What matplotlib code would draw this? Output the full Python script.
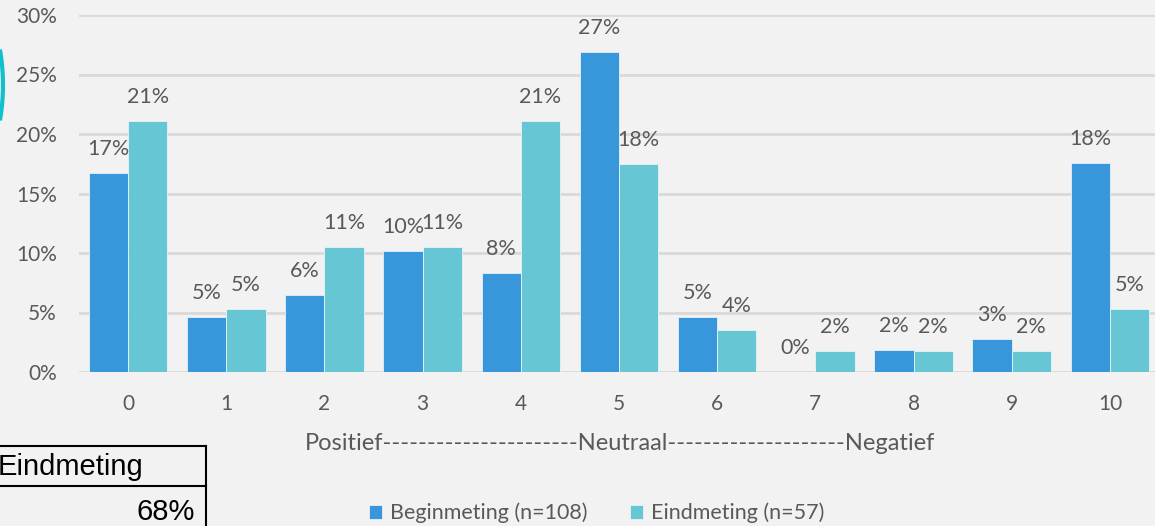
import matplotlib.pyplot as plt
from matplotlib.patches import Arc
import numpy as np

categories = ['0', '1', '2', '3', '4', '5', '6', '7', '8', '9', '10']
begin = [16.7, 4.6, 6.5, 10.2, 8.3, 26.9, 4.6, 0.0, 1.85, 2.8, 17.6]
eind = [21.1, 5.3, 10.5, 10.5, 21.1, 17.5, 3.5, 1.75, 1.75, 1.75, 5.3]
begin_labels = ['17%', '5%', '6%', '10%', '8%', '27%', '5%', '0%', '2%', '3%', '18%']
eind_labels = ['21%', '5%', '11%', '11%', '21%', '18%', '4%', '2%', '2%', '2%', '5%']
yticks = [0, 5, 10, 15, 20, 25, 30]
series_names = ['Beginmeting (n=108)', 'Eindmeting (n=57)']
x_title = 'Positief' + '-' * 22 + 'Neutraal' + '-' * 20 + 'Negatief'
table_head = 'Eindmeting'
table_value = '68%'

plt.rcParams['font.family'] = ['Lato', 'DejaVu Sans']
bg = '#F2F2F2'
c_begin = '#3897DB'
c_eind = '#66C6D4'
grey = '#595959'

W, H = 1155, 526
fig = plt.figure(figsize=(W / 100, H / 100), dpi=100, facecolor=bg)
ax = fig.add_axes([79 / W, 1 - 372 / H, 1080 / W, 357 / H], facecolor=bg)

x = np.arange(len(categories))
bw = 0.4
ax.bar(x - bw / 2, begin, bw, color=c_begin, edgecolor='#E8F0F8', linewidth=0.6,
       label=series_names[0], zorder=3)
ax.bar(x + bw / 2, eind, bw, color=c_eind, edgecolor='#E8F4F6', linewidth=0.6,
       label=series_names[1], zorder=3)

for i in range(len(categories)):
    ax.annotate(begin_labels[i], (x[i] - bw / 2, begin[i]), xytext=(0, 10),
                textcoords='offset points', ha='center', va='bottom',
                fontsize=15.5, color=grey)
    ax.annotate(eind_labels[i], (x[i] + bw / 2, eind[i]), xytext=(0, 10),
                textcoords='offset points', ha='center', va='bottom',
                fontsize=15.5, color=grey)

ax.set_xlim(-0.5, len(categories) - 0.5)
ax.set_ylim(0, 30)
ax.set_yticks(yticks)
ax.set_yticklabels([f'{t}%' for t in yticks])
ax.set_xticks(x)
ax.set_xticklabels(categories)
ax.tick_params(length=0, labelsize=15, labelcolor=grey)
ax.tick_params(axis='y', pad=16)
ax.tick_params(axis='x', pad=16)
ax.grid(axis='y', color='#D9D9D9', linewidth=2, zorder=0)
ax.set_axisbelow(True)
for s in ax.spines.values():
    s.set_visible(False)

ax.set_xlabel(x_title, fontsize=17, color=grey)
ax.xaxis.set_label_coords((620 - 79) / 1080, -(443 - 372) / 357)
ax.xaxis.label.set_va('center')

fig.legend(loc='center left', bbox_to_anchor=(350 / W, 1 - 513 / H), ncol=2,
           frameon=False, fontsize=15.5, labelcolor=grey, handlelength=0.6,
           handleheight=0.6, handletextpad=0.35, columnspacing=2.0)

# table fragment bottom left
fig.add_artist(plt.Line2D([0, 206 / W], [1 - 446 / H] * 2, color='black', lw=1.5))
fig.add_artist(plt.Line2D([0, 206 / W], [1 - 486 / H] * 2, color='black', lw=1.5))
fig.add_artist(plt.Line2D([206 / W] * 2, [0, 1 - 446 / H], color='black', lw=1.5))
fig.text(-2 / W, 1 - 467 / H, table_head, fontsize=21, family='Liberation Sans',
         va='center', ha='left', color='black')
fig.text(195 / W, 1 - 512 / H, table_value, fontsize=21, family='Liberation Sans',
         va='center', ha='right', color='black')

# teal arc at left edge
fig.add_artist(Arc((-203 / W, 1 - 85 / H), 412 / W, 412 / H, theta1=-21, theta2=21,
                   color='#12BFCC', lw=3, transform=fig.transFigure))

fig.savefig('out.png', dpi=100, facecolor=bg)
